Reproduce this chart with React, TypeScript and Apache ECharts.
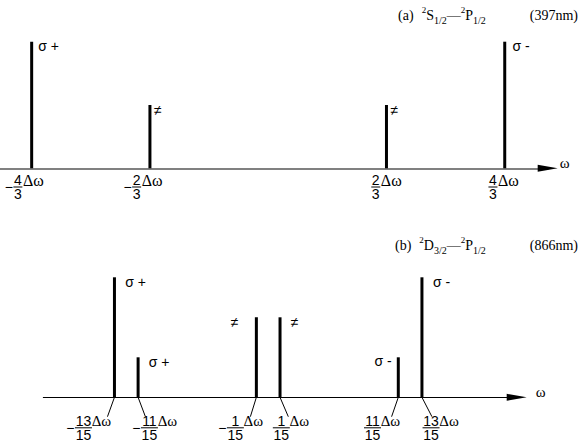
import React, { useEffect, useRef } from "react";
import * as echarts from "echarts";

const SANS = "'Liberation Sans', Arial, Helvetica, sans-serif";
const SERIF = "'Liberation Serif', 'Times New Roman', serif";

// ---------- Panel (a): 2S1/2 – 2P1/2 (397 nm); positions in units of Δω ----------
const aPositions = [-4 / 3, -2 / 3, 2 / 3, 4 / 3];
const aStrengths = [2, 1, 1, 2];
const aMarks = ["σ +", "≠", "≠", "σ -"];
const aSigns = ["−", "−", "", ""];
const aNumerators = ["4", "2", "2", "4"];
const aDenominators = ["3", "3", "3", "3"];

// ---------- Panel (b): 2D3/2 – 2P1/2 (866 nm) ----------
const bPositions = [-13 / 15, -11 / 15, -1 / 15, 1 / 15, 11 / 15, 13 / 15];
const bStrengths = [3, 1, 2, 2, 1, 3];
const bMarks = ["σ +", "σ +", "≠", "≠", "σ -", "σ -"];
const bSigns = ["−", "−", "−", "", "", ""];
const bNumerators = ["13", "11", "1", "1", "11", "13"];
const bDenominators = ["15", "15", "15", "15", "15", "15"];

const titleAText =
  "{t|(a)}{g1| }{sup|2}{t|S}{sub|1/2}{t|—}{sup|2}{t|P}{sub|1/2}{g2| }{t|(397nm)}";
const titleBText =
  "{t|(b)}{g1| }{sup|2}{t|D}{sub|3/2}{t|—}{sup|2}{t|P}{sub|1/2}{g2| }{t|(866nm)}";

// ---------- layout (pixels) ----------
const CX = 268.2; // pixel x of ω = 0
const UNIT = 177.4; // pixels per Δω
const A_LEFT = 0, A_END = 547.7, A_TOP = 41.7, A_AXIS = 168.3;
const B_LEFT = 43.3, B_END = 516.7, B_TOP = 277.3, B_AXIS = 397.3;
const W = 581, H = 448;

// label offsets: [dx from bar centre, dy from bar top, align]
const aMarkLayout: any[] = [[6.6, 4.5, "left"], [4, 5, "left"], [4, 5, "left"], [7.7, 4.5, "left"]];
const bMarkLayout: any[] = [
  [10.7, 5, "left"], [10.6, 5, "left"], [-18, 5, "right"],
  [10.7, 5, "left"], [-6.6, 4, "right"], [11, 4.5, "left"],
];
const aFracDx = [-13.8, -13.3, -10.7, -11.8];
const bFracDx = [-31, 11.3, -21, 1.3, -25.8, 9.1];
const bLeaderDx = [-7, 7.3, -6, 8.3, -6.7, 10];

function barData(pos: number[], str: number[], marks: string[], layout: any[]) {
  return pos.map((x, i) => ({
    value: [x, str[i]],
    label: {
      show: true,
      formatter: marks[i],
      position: [1.5 + layout[i][0], layout[i][1]],
      align: layout[i][2],
      verticalAlign: "middle",
      fontFamily: SANS,
      fontSize: 14,
      color: "#000",
    },
  }));
}

function tickRenderer(
  nums: string[], dens: string[], signs: string[], fracDx: number[],
  leaderDx: number[] | null, leaderLen: number, textTop: number, dwFont: string, dwW: number
) {
  return (params: any, api: any) => {
    const i = params.dataIndex;
    const p = api.coord([api.value(0), 0]);
    const num = nums[i], den = dens[i], sign = signs[i];
    const fw = Math.max(num.length, den.length) * 8 + 1;
    const sw = sign ? 9 : 0;
    const digit = "14px " + SANS;
    const rich: any = {
      s0: { width: sw, align: "center", lineHeight: 11, font: digit },
      sg: { width: sw, align: "center", lineHeight: 3, font: digit },
      nu: { width: fw, align: "center", lineHeight: 11, font: digit },
      fb: { width: fw, height: 1, align: "center", lineHeight: 3, backgroundColor: "#000", font: digit },
      dw: { width: dwW, align: "center", lineHeight: 11, font: dwFont },
      e3: { width: dwW, align: "center", lineHeight: 3, font: digit },
      e11: { width: dwW, align: "center", lineHeight: 11, font: digit },
    };
    const pre1 = sign ? "{s0| }" : "";
    const pre2 = sign ? `{sg|${sign}}` : "";
    const text =
      `${pre1}{nu|${num}}{dw|Δω}\n` + `${pre2}{fb| }{e3| }\n` + `${pre1}{nu|${den}}{e11| }`;
    const children: any[] = [];
    if (leaderDx) {
      children.push({
        type: "line",
        shape: { x1: p[0], y1: p[1], x2: p[0] + leaderDx[i], y2: p[1] + leaderLen },
        style: { stroke: "#000", lineWidth: 1 },
      });
    }
    children.push({
      type: "text",
      x: p[0] + fracDx[i] - sw - fw / 2,
      y: p[1] + textTop,
      style: { text, rich, fill: "#000", align: "left", verticalAlign: "top" },
    });
    return { type: "group", children };
  };
}

const titleRich: any = {
  t: { fontFamily: SERIF, fontSize: 14, color: "#000", lineHeight: 20 },
  g1: { width: 8, lineHeight: 20 },
  g2: { width: 44, lineHeight: 20 },
  sup: { fontFamily: SERIF, fontSize: 9, color: "#000", verticalAlign: "top", lineHeight: 20 },
  sub: { fontFamily: SERIF, fontSize: 10, color: "#000", verticalAlign: "bottom", lineHeight: 20 },
};

const hiddenAxisParts = {
  axisTick: { show: false },
  axisLabel: { show: false },
  splitLine: { show: false },
};

export default function App() {
  const ref = useRef<HTMLDivElement>(null);
  useEffect(() => {
    if (!ref.current) return;
    const chart = echarts.init(ref.current, null, { renderer: "svg" });
    const aMin = (A_LEFT - CX) / UNIT, aMax = (A_END - CX) / UNIT;
    const bMin = (B_LEFT - CX) / UNIT, bMax = (B_END - CX) / UNIT;
    const omegaName = {
      name: "ω",
      nameLocation: "end",
      nameTextStyle: { fontFamily: SERIF, fontSize: 15, color: "#000", verticalAlign: "bottom", lineHeight: 11 },
    };
    chart.setOption({
      animation: false,
      backgroundColor: "#fff",
      title: [
        { text: titleAText, right: 3, top: 5.3, padding: 0, textStyle: { fontFamily: SERIF, fontSize: 14, color: "#000", fontWeight: "normal", lineHeight: 20, rich: titleRich } },
        { text: titleBText, right: 3, top: 235.8, padding: 0, textStyle: { fontFamily: SERIF, fontSize: 14, color: "#000", fontWeight: "normal", lineHeight: 20, rich: titleRich } },
      ],
      grid: [
        { left: A_LEFT, right: W - A_END, top: A_TOP, bottom: H - A_AXIS },
        { left: B_LEFT, right: W - B_END, top: B_TOP, bottom: H - B_AXIS },
      ],
      xAxis: [
        {
          gridIndex: 0, type: "value", position: "bottom", min: aMin, max: aMax,
          axisLine: { show: true, onZero: true, lineStyle: { color: "#808080", width: 2 } },
          ...hiddenAxisParts,
        },
        {
          gridIndex: 0, type: "value", position: "bottom", min: aMin, max: aMax,
          axisLine: { show: true, onZero: true, symbol: ["none", "triangle"], symbolSize: [7, 20], lineStyle: { color: "#000", width: 0 } },
          ...hiddenAxisParts,
          ...omegaName,
          nameGap: 12,
        },
        {
          gridIndex: 1, type: "value", position: "bottom", min: bMin, max: bMax,
          axisLine: { show: true, onZero: true, symbol: ["none", "triangle"], symbolSize: [7, 20], lineStyle: { color: "#000", width: 1 } },
          ...hiddenAxisParts,
          ...omegaName,
          nameGap: 19,
        },
      ],
      yAxis: [
        { gridIndex: 0, type: "value", min: 0, max: 2, show: false },
        { gridIndex: 1, type: "value", min: 0, max: 3, show: false },
      ],
      series: [
        {
          type: "bar", xAxisIndex: 0, yAxisIndex: 0, barWidth: 3,
          itemStyle: { color: "#000" },
          data: barData(aPositions, aStrengths, aMarks, aMarkLayout),
        },
        {
          type: "custom", xAxisIndex: 0, yAxisIndex: 0, silent: true,
          data: aPositions.map((x) => [x, 0]),
          encode: { x: 0, y: 1 },
          renderItem: tickRenderer(aNumerators, aDenominators, aSigns, aFracDx, null, 0, 6.2, "16px " + SERIF, 22),
        },
        {
          type: "bar", xAxisIndex: 2, yAxisIndex: 1, barWidth: 3,
          itemStyle: { color: "#000" },
          data: barData(bPositions, bStrengths, bMarks, bMarkLayout),
        },
        {
          type: "custom", xAxisIndex: 2, yAxisIndex: 1, silent: true,
          data: bPositions.map((x) => [x, 0]),
          encode: { x: 0, y: 1 },
          renderItem: tickRenderer(bNumerators, bDenominators, bSigns, bFracDx, bLeaderDx, 19.4, 18, "15px " + SERIF, 19),
        },
      ],
    });
    return () => chart.dispose();
  }, []);
  return (
    <div
      ref={ref}
      style={{ position: "fixed", left: 0, top: 0, width: W, height: H, background: "#fff" }}
    />
  );
}
